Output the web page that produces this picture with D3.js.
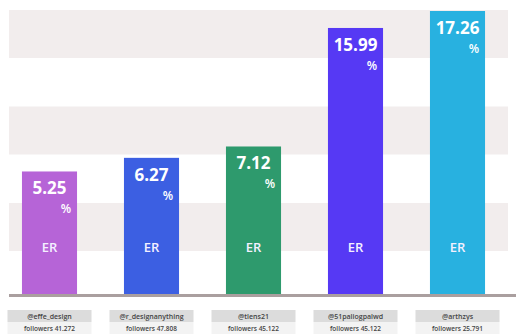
<!DOCTYPE html>
<html><head><meta charset="utf-8">
<script src="https://cdn.jsdelivr.net/npm/d3@7"></script>
<style>html,body{margin:0;padding:0;background:#fff;}svg{display:block;}</style>
</head><body>
<svg id="c" width="516" height="335"></svg>
<script>
const handles = ["@effe_design", "@r_designanything", "@tlens21", "@51paliogpalwd", "@arthzys"];
const followers = ["followers 41.272", "followers 47.808", "followers 45.122", "followers 45.122", "followers 25.791"];
const er = [5.25, 6.27, 7.12, 15.99, 17.26];
const colors = ["#b664d7", "#3c5fe2", "#2e9a6d", "#5639f4", "#28b1e0"];
const bands = [0, 1, 2];

const svg = d3.select("#c");
const base = 294;
const x = d3.scaleBand().domain(handles).range([-1.5, 508.5]).paddingInner(0.46).paddingOuter(0.23);
const y = d3.scaleLinear().domain([-3.92, 17.26]).range([base, 11]);
const font = "'Open Sans', 'DejaVu Sans', sans-serif";

// background bands
svg.selectAll("rect.band").data(bands).enter().append("rect")
  .attr("x", 9).attr("width", 499)
  .attr("y", d => 10 + d * 96.5).attr("height", 48)
  .attr("fill", "#f2eded");

// bars
svg.selectAll("rect.bar").data(er).enter().append("rect")
  .attr("x", (d, i) => x(handles[i])).attr("width", x.bandwidth())
  .attr("y", d => y(d)).attr("height", d => base - y(d))
  .attr("fill", (d, i) => colors[i]);

// baseline
svg.append("rect").attr("x", 9).attr("y", base).attr("width", 507).attr("height", 3).attr("fill", "#aa9f9f");

// value labels
svg.selectAll("text.val").data(er).enter().append("text")
  .attr("x", (d, i) => x(handles[i]) + x.bandwidth() / 2)
  .attr("y", d => y(d) + 23)
  .attr("text-anchor", "middle").attr("fill", "#fff")
  .attr("font-family", font).attr("font-weight", 700).attr("font-size", 17)
  .text(d => d.toFixed(2));
svg.selectAll("text.pct").data(er).enter().append("text")
  .attr("x", (d, i) => x(handles[i]) + x.bandwidth() - 6)
  .attr("y", d => y(d) + 42)
  .attr("text-anchor", "end").attr("fill", "#fff")
  .attr("font-family", font).attr("font-weight", 600).attr("font-size", 12)
  .text("%");
svg.selectAll("text.er").data(er).enter().append("text")
  .attr("x", (d, i) => x(handles[i]) + x.bandwidth() / 2)
  .attr("y", 252)
  .attr("text-anchor", "middle").attr("fill", "#f4f0ff")
  .attr("font-family", font).attr("font-weight", 600).attr("font-size", 13)
  .text("ER");

// labels under axis
const g = svg.selectAll("g.lab").data(handles).enter().append("g")
  .attr("transform", d => `translate(${x(d) + x.bandwidth() / 2},0)`);
g.append("rect").attr("x", -42).attr("width", 84).attr("y", 310).attr("height", 12).attr("fill", "#dcdcdc");
g.append("rect").attr("x", -42).attr("width", 84).attr("y", 322).attr("height", 12).attr("fill", "#f3f3f3");
g.append("text").attr("y", 319).attr("text-anchor", "middle")
  .attr("font-family", font).attr("font-weight", 600).attr("font-size", 7).attr("fill", "#444")
  .text(d => d);
g.append("text").attr("y", 331).attr("text-anchor", "middle")
  .attr("font-family", font).attr("font-weight", 600).attr("font-size", 6.5).attr("fill", "#444")
  .text((d, i) => followers[i]);
</script>
</body></html>
